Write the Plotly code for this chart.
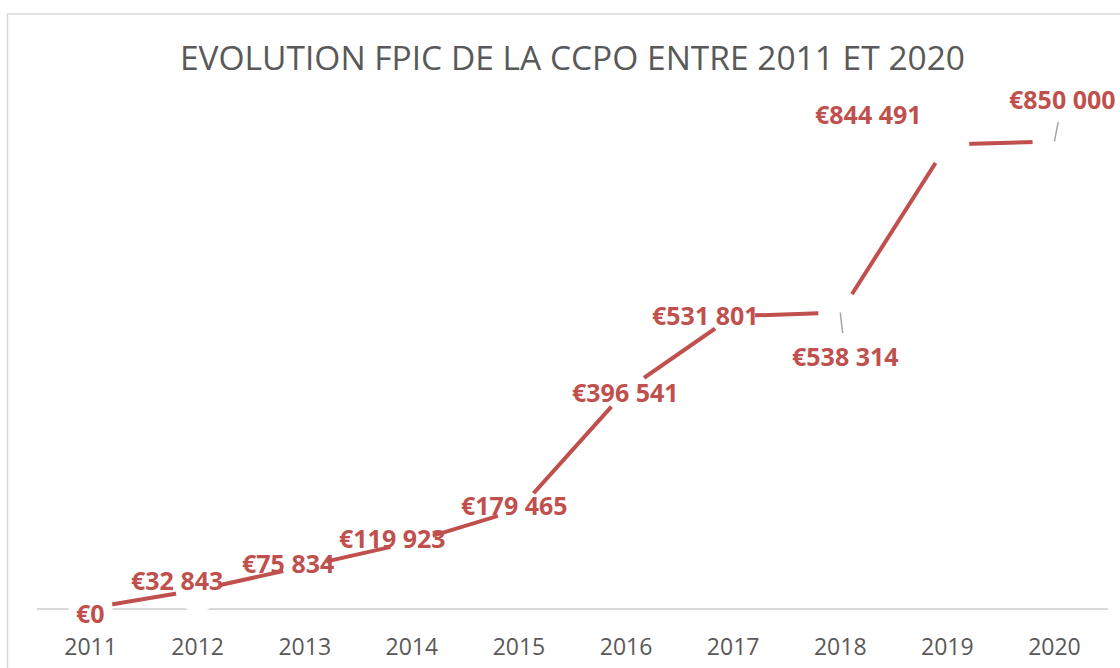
import plotly.graph_objects as go

years = ["2011", "2012", "2013", "2014", "2015", "2016", "2017", "2018", "2019", "2020"]
fpic = [0, 32843, 75834, 119923, 179465, 396541, 531801, 538314, 844491, 850000]

# label offsets (pixels) relative to each point: (dx, dy_down), and whether a leader line is drawn
label_dx = [0, -21, -17, -19, -4, -1, -28, 5, -79, 8]
label_dy = [5, -10, -3, -4, -4, 2, -1, 43, -30, -42]
leader = [False, False, False, False, False, False, False, True, False, True]

RED = "#C0504D"
GREY = "#595959"

fig = go.Figure()
fig.add_trace(go.Scatter(
    x=years, y=fpic, mode="lines+markers",
    line=dict(color=RED, width=4),
    marker=dict(size=44, color="white", line=dict(width=0)),
    cliponaxis=False, hoverinfo="skip", showlegend=False,
))


def fmt(v):
    return "€" + f"{v:,}".replace(",", " ")


for i, (v, dx, dy, ld) in enumerate(zip(fpic, label_dx, label_dy, leader)):
    common = dict(x=i, y=v, xref="x", yref="y", text=fmt(v),
                  font=dict(family="Open Sans", size=25, color=RED, weight="bold"))
    if ld:
        fig.add_annotation(**common, showarrow=True, ax=dx, ay=dy, axref="pixel", ayref="pixel",
                           arrowhead=0, arrowwidth=1.5, arrowcolor="#A6A6A6",
                           standoff=0, startstandoff=4)
    else:
        fig.add_annotation(**common, showarrow=False, xshift=dx, yshift=-dy)

fig.update_layout(
    width=1120, height=668,
    margin=dict(l=37, r=12, t=114, b=60, autoexpand=False),
    paper_bgcolor="white", plot_bgcolor="white",
    title=dict(text="EVOLUTION FPIC DE LA CCPO ENTRE 2011 ET 2020",
               x=0.5, xanchor="center", xref="paper",
               y=1 - 58.5 / 668, yanchor="middle", yref="container",
               font=dict(family="Open Sans", size=33.5, color=GREY)),
    xaxis=dict(type="category", range=[-0.5, 9.5], showgrid=False, zeroline=False,
               showline=True, linecolor="#D9D9D9", linewidth=1.5, ticks="",
               layer="below traces", ticklabelstandoff=18, automargin=False,
               tickfont=dict(family="Open Sans", size=23, color=GREY)),
    yaxis=dict(range=[0, 900000], visible=False, showgrid=False, zeroline=False,
               automargin=False),
    shapes=[dict(type="rect", xref="paper", yref="paper",
                 x0=-0.0275, x1=1.05, y0=-0.3, y1=(608 - 14) / 494,
                 line=dict(color="#D9D9D9", width=1.5), fillcolor="rgba(0,0,0,0)", layer="below")],
)

fig.write_html("out.html", config={"displayModeBar": False},
               post_script="document.body.style.margin='0';document.body.style.overflow='hidden';")
